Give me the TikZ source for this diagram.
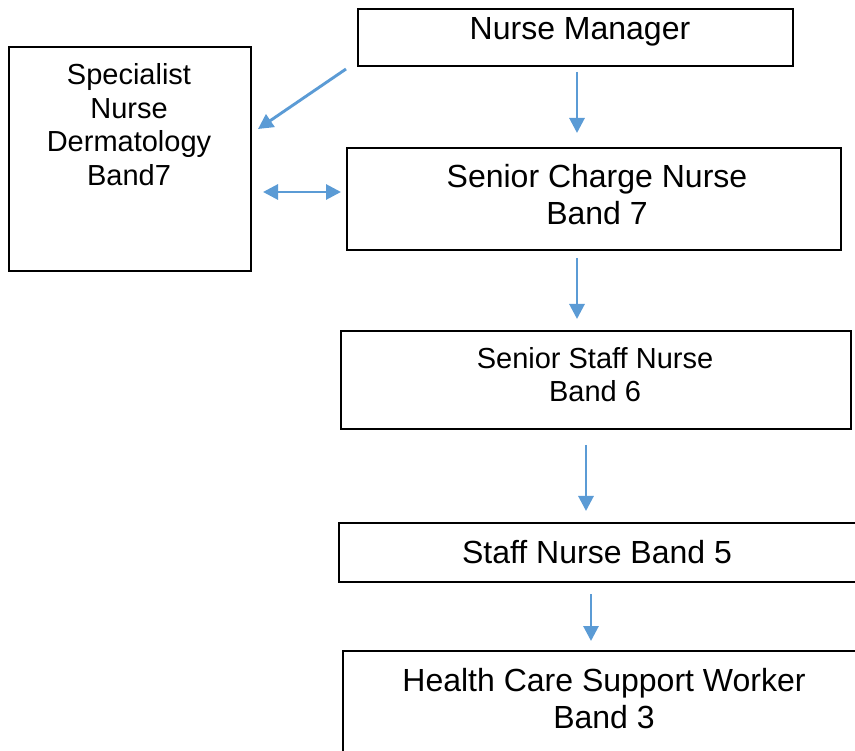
\documentclass[tikz,border=0pt]{standalone}
\usepackage{fontspec}
\setmainfont{Liberation Sans}
\usetikzlibrary{arrows.meta}
\definecolor{arrblue}{RGB}{91,155,213}
\tikzset{
  box/.style={draw=black,line width=1.6pt,inner sep=0pt,anchor=north west},
  big/.style={font=\fontsize{32}{37}\selectfont,align=center,inner sep=0pt},
  small/.style={font=\fontsize{29}{33.7}\selectfont,align=center,inner sep=0pt},
  arr/.style={draw=arrblue,line width=2.9pt,-{Triangle[length=15pt,width=15pt]}},
  darr/.style={draw=arrblue,line width=2.9pt,{Triangle[length=15pt,width=15pt]}-{Triangle[length=15pt,width=15pt]}}
}
\begin{document}
\begin{tikzpicture}[x=1pt,y=-1pt]
\useasboundingbox (0,0) rectangle (855,751);
% boxes
\node[box,minimum width=435pt,minimum height=57pt] (nm) at (357,8) {};
\node[box,minimum width=242pt,minimum height=224pt] (sp) at (8,46) {};
\node[box,minimum width=494pt,minimum height=102pt] (scn) at (346,147) {};
\node[box,minimum width=510pt,minimum height=98pt] (ssn) at (340,330) {};
\node[box,minimum width=517pt,minimum height=59pt] (sn5) at (338,522) {};
\node[box,minimum width=530pt,minimum height=120pt] (hc) at (342,650) {};
% texts
\node[big,anchor=base] (tnm) at (580,39.5) {Nurse Manager};
\node[small] (tsp) at (129,124.5) {Specialist\\Nurse\\Dermatology\\Band7};
\node[big] (tscn) at (597,194.5) {Senior Charge Nurse\\Band 7};
\node[small] (tssn) at (595,374.5) {Senior Staff Nurse\\Band 6};
\node[big,anchor=base] (tsn5) at (597,563.5) {Staff Nurse Band 5};
\node[big] (thc) at (604,698.5) {Health Care Support Worker\\Band 3};
% arrow end points
\coordinate (a1s) at (577,72);  \coordinate (a1e) at (577,133);
\coordinate (a2s) at (346,69);  \coordinate (a2e) at (258,129);
\coordinate (a3s) at (263,192); \coordinate (a3e) at (341,192);
\coordinate (a4s) at (577,258); \coordinate (a4e) at (577,319);
\coordinate (a5s) at (586,445); \coordinate (a5e) at (586,511);
\coordinate (a6s) at (591,594); \coordinate (a6e) at (591,641);
\draw[arr] (a1s) -- (a1e);
\draw[arr] (a2s) -- (a2e);
\draw[darr] (a3s) -- (a3e);
\draw[arr] (a4s) -- (a4e);
\draw[arr] (a5s) -- (a5e);
\draw[arr] (a6s) -- (a6e);
\end{tikzpicture}
\end{document}
